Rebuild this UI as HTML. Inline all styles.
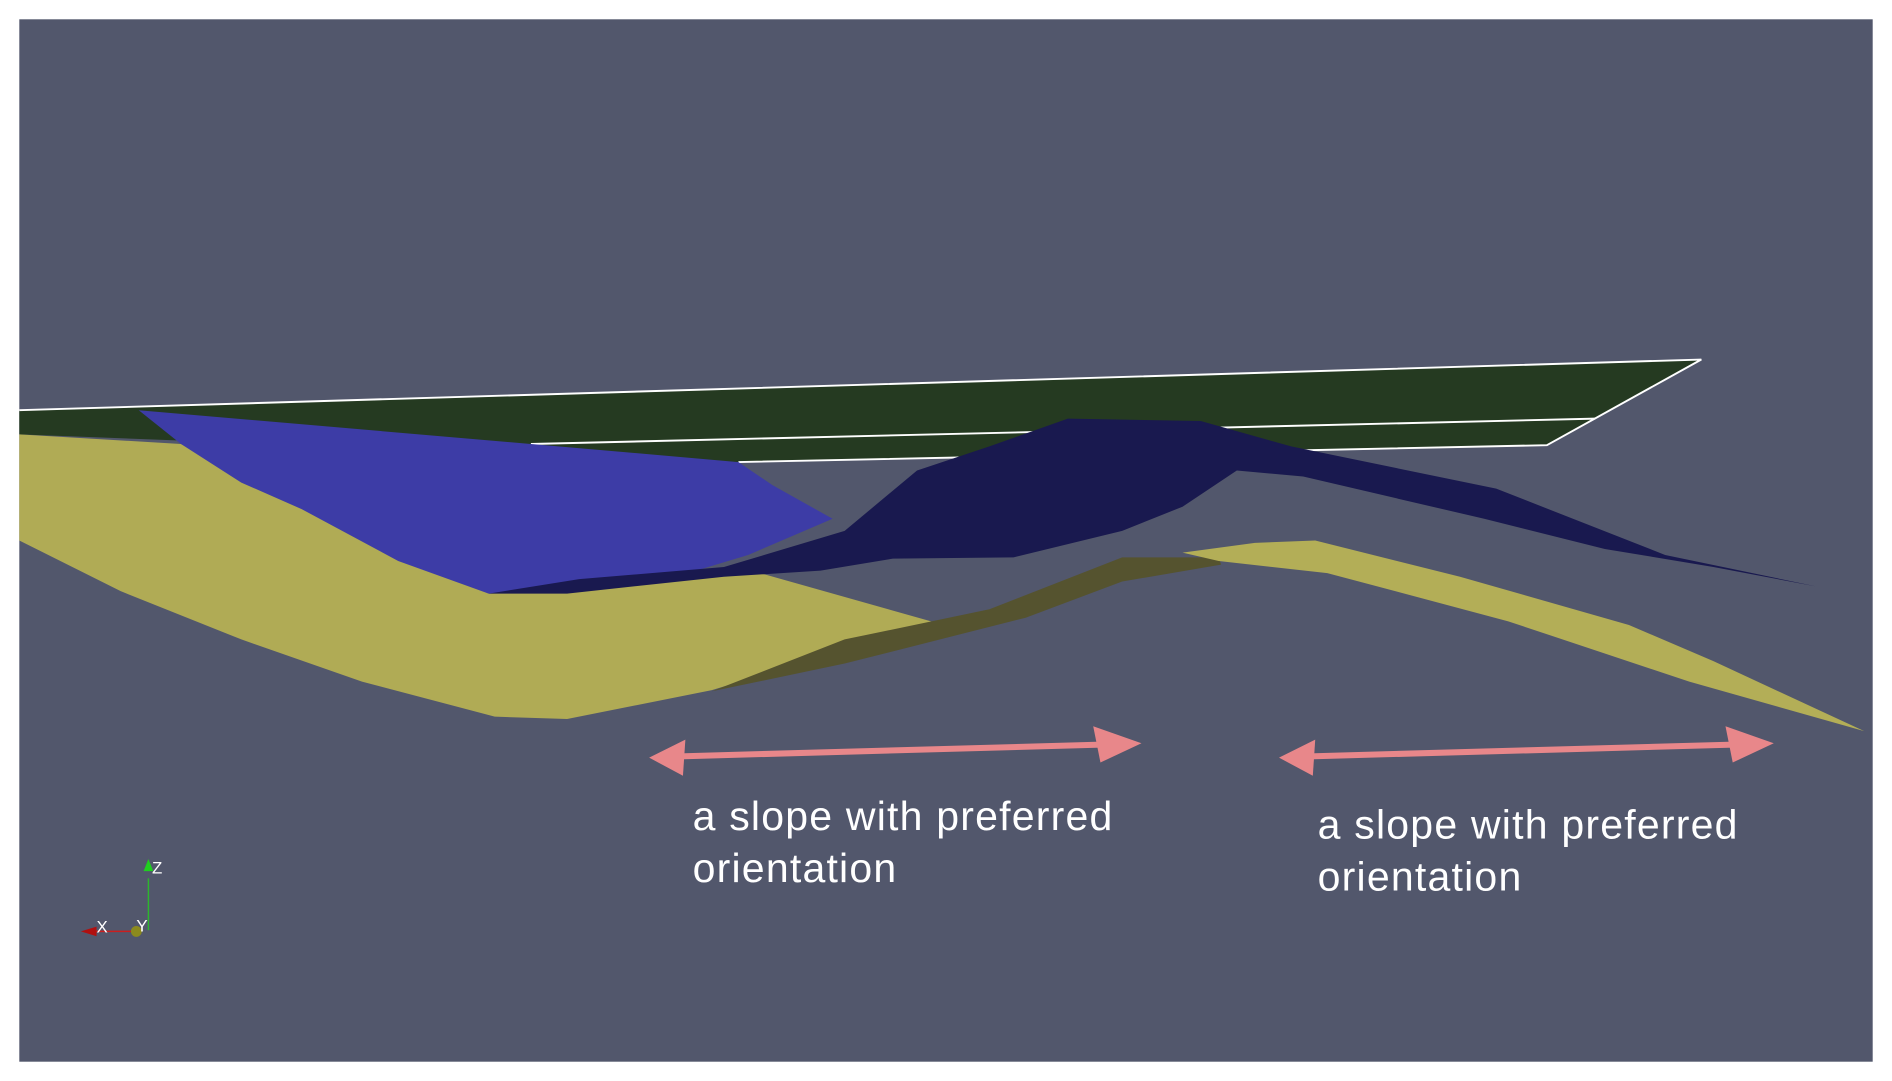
<!DOCTYPE html>
<html><head><meta charset="utf-8"><style>
html,body{margin:0;padding:0;background:#fff;}
svg{display:block;}
</style></head><body>
<svg width="1892" height="1081" viewBox="0 0 1568 896" preserveAspectRatio="none" xmlns="http://www.w3.org/2000/svg">
<rect x="0" y="0" width="1568" height="896" fill="#fff"/>
<rect x="16" y="16" width="1536" height="864" fill="#52576c"/>
<polygon points="16,340 1410,298 1282,369 612,383 16,360" fill="#253a21"/>
<polyline points="16,340 1410,298 1282,369 612,383" fill="none" stroke="#fff" stroke-width="1.6"/>
<line x1="440" y1="368" x2="1322" y2="347" stroke="#fff" stroke-width="1.6"/>
<polygon points="16,360 150,368 250,420 405,492 470,490 600,473 630,475 775,516 590,572 470,596 410,594 300,565 200,530 100,490 16,448" fill="#b0ab55"/>
<polygon points="590,573 700,530 820,505 930,462 1010,462 1012,468 930,482 850,512 700,550" fill="#55532f"/>
<polygon points="980,458 1040,450 1090,448 1210,478 1350,518 1420,548 1545,606 1400,565 1250,515 1100,475 1010,465" fill="#b3ae57"/>
<polygon points="115,340 440,368 612,383 640,402 690,430 620,460 560,478 470,490 405,492 330,465 250,422 200,400 150,368" fill="#3d3ca6"/>
<polygon points="405,492 480,480 600,470 700,440 760,390 820,370 885,347 995,349 1070,370 1240,405 1380,460 1505,486 1420,470 1330,455 1230,430 1080,395 1025,390 980,420 930,440 840,462 740,463 680,473 600,478 470,492" fill="#19194f"/>
<g fill="#e8878a" stroke="#e8878a">
<line x1="560" y1="627" x2="920" y2="617" stroke-width="5"/>
<polygon points="538,628 568,613 566,643" stroke="none"/>
<polygon points="946,616 906,602 912,632" stroke="none"/>
<line x1="1082" y1="627" x2="1444" y2="617" stroke-width="5"/>
<polygon points="1060,628 1090,613 1088,643" stroke="none"/>
<polygon points="1470,616 1430,602 1436,632" stroke="none"/>
</g>
<g fill="#fff" font-family="'Liberation Sans',sans-serif" font-size="34" letter-spacing="1">
<text x="574" y="688">a slope with preferred</text>
<text x="574" y="731">orientation</text>
<text x="1092" y="695">a slope with preferred</text>
<text x="1092" y="738">orientation</text>
</g>
<line x1="123" y1="728" x2="123" y2="771" stroke="#2db52d" stroke-width="1.2"/>
<polygon points="123,712 119,722 127,722" fill="#1fcf1f"/>
<line x1="76" y1="772" x2="113" y2="772" stroke="#cc1e1e" stroke-width="1.2"/>
<polygon points="67,772 80,768 80,776" fill="#b01010"/>
<circle cx="113" cy="772" r="4.5" fill="#8c8a1e"/>
<g fill="#fff" font-family="'Liberation Sans',sans-serif" font-size="14">
<text x="126" y="724">Z</text>
<text x="80" y="773">X</text>
<text x="113" y="772">Y</text>
</g>
</svg>
</body></html>
